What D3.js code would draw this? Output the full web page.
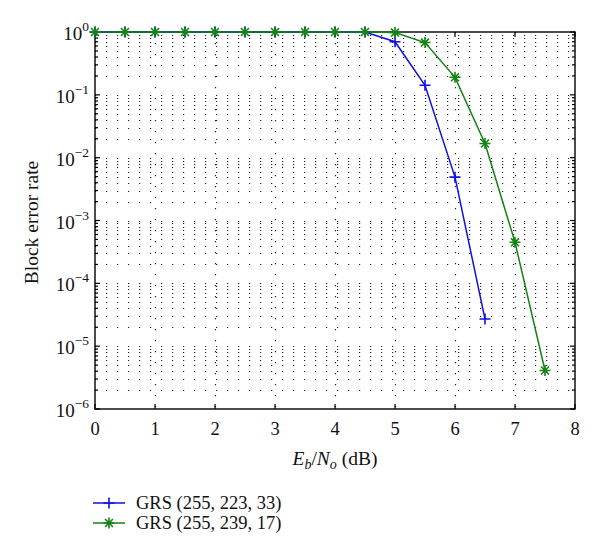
<!DOCTYPE html>
<html>
<head>
<meta charset="utf-8">
<script src="https://cdn.jsdelivr.net/npm/d3@7"></script>
<style>
  body { margin: 0; background: #fff; }
  text { font-family: "Liberation Serif", "DejaVu Serif", serif; fill: #111; }
</style>
</head>
<body>
<div id="chart"></div>
<script>
// Eb/No on x, block error rate (log) on y
var ebno = [0, 0.5, 1, 1.5, 2, 2.5, 3, 3.5, 4, 4.5, 5, 5.5, 6, 6.5, 7, 7.5]
var ber223 = [1, 1, 1, 1, 1, 1, 1, 1, 1, 1, 0.70, 0.142, 0.0049, 2.7e-5]
var ber239 = [1, 1, 1, 1, 1, 1, 1, 1, 1, 1, 0.98, 0.68, 0.19, 0.0168, 4.5e-4, 4.1e-6]
var seriesNames = ["GRS (255, 223, 33)", "GRS (255, 239, 17)"]
var xTicks = [0, 1, 2, 3, 4, 5, 6, 7, 8]
var yExps = [0, -1, -2, -3, -4, -5, -6]

var dimensions = {
    margin: { top: 32, bottom: 146, right: 25, left: 95 },
    width: 600,
    height: 555
}
var w = dimensions.width - dimensions.margin.left - dimensions.margin.right
var h = dimensions.height - dimensions.margin.top - dimensions.margin.bottom

var svg = d3.select("#chart")
    .append("svg")
    .attr("width", dimensions.width)
    .attr("height", dimensions.height)

var g = svg.append("g")
    .attr("transform", "translate(" + dimensions.margin.left + "," + dimensions.margin.top + ")")

var x = d3.scaleLinear().domain([0, 8]).range([0, w])
var y = d3.scaleLog().domain([1e-6, 1]).range([h, 0])

// minor decade positions
var minorVals = []
for (var e = -6; e < 0; e++) {
    for (var m = 2; m <= 9; m++) minorVals.push(m * Math.pow(10, e))
}
var majorVals = yExps.map(function (e) { return Math.pow(10, e) })

// grid
var grid = g.append("g").attr("stroke", "#222").attr("stroke-width", 1.2).attr("stroke-dasharray", "1.2,9.8")
grid.selectAll(".hg")
    .data(minorVals.concat(majorVals.slice(1, -1)))
    .enter().append("line")
    .attr("x1", 0).attr("x2", w)
    .attr("y1", function (d) { return Math.round(y(d)) + 0.5 })
    .attr("y2", function (d) { return Math.round(y(d)) + 0.5 })
grid.selectAll(".vg")
    .data(xTicks.slice(1, -1))
    .enter().append("line")
    .attr("x1", function (d) { return Math.round(x(d)) + 0.5 })
    .attr("x2", function (d) { return Math.round(x(d)) + 0.5 })
    .attr("y1", 0).attr("y2", h)

// box + ticks
g.append("rect").attr("width", w).attr("height", h)
    .attr("fill", "none").attr("stroke", "#000").attr("stroke-width", 1.4)

var ticks = g.append("g").attr("stroke", "#000").attr("stroke-width", 1.2)
xTicks.forEach(function (t) {
    ticks.append("line").attr("x1", x(t)).attr("x2", x(t)).attr("y1", h).attr("y2", h - 5)
    ticks.append("line").attr("x1", x(t)).attr("x2", x(t)).attr("y1", 0).attr("y2", 5)
})
majorVals.forEach(function (v) {
    ticks.append("line").attr("x1", 0).attr("x2", 5).attr("y1", y(v)).attr("y2", y(v))
    ticks.append("line").attr("x1", w).attr("x2", w - 5).attr("y1", y(v)).attr("y2", y(v))
})
minorVals.forEach(function (v) {
    ticks.append("line").attr("x1", 0).attr("x2", 3).attr("y1", y(v)).attr("y2", y(v))
    ticks.append("line").attr("x1", w).attr("x2", w - 3).attr("y1", y(v)).attr("y2", y(v))
})

// tick labels
g.selectAll(".xl")
    .data(xTicks)
    .enter().append("text")
    .attr("x", function (d) { return x(d) })
    .attr("y", h + 26)
    .attr("text-anchor", "middle")
    .attr("font-size", 18.5)
    .text(function (d) { return d })

var yl = g.selectAll(".yl")
    .data(yExps)
    .enter().append("text")
    .attr("x", -6)
    .attr("y", function (d) { return y(Math.pow(10, d)) + 8 })
    .attr("text-anchor", "end")
    .attr("font-size", 19)
yl.append("tspan").text("10")
yl.append("tspan").attr("dy", -9).attr("font-size", 13.5)
    .text(function (d) { return d == 0 ? "0" : "\u2212" + (-d) })

// axis titles
var xt = svg.append("text")
    .attr("x", dimensions.margin.left + w / 2)
    .attr("y", 465)
    .attr("text-anchor", "middle")
    .attr("font-size", 19.5)
xt.append("tspan").attr("font-style", "italic").text("E")
xt.append("tspan").attr("font-style", "italic").attr("font-size", 14).attr("dy", 4).text("b")
xt.append("tspan").attr("dy", -4).text("/")
xt.append("tspan").attr("font-style", "italic").text("N")
xt.append("tspan").attr("font-style", "italic").attr("font-size", 14).attr("dy", 4).text("o")
xt.append("tspan").attr("dy", -4).text(" (dB)")

svg.append("text")
    .attr("transform", "translate(38," + (dimensions.margin.top + h / 2 + 2) + ") rotate(-90)")
    .attr("text-anchor", "middle")
    .attr("font-size", 19.5)
    .text("Block error rate")

// series
var series = [
    { name: seriesNames[0], vals: ber223, color: "#1010e0", marker: "plus" },
    { name: seriesNames[1], vals: ber239, color: "#138313", marker: "star" }
]

var line = d3.line()
    .x(function (d) { return x(d[0]) })
    .y(function (d) { return y(d[1]) })

function drawMarker(sel, type, color) {
    var r = 5.5
    if (type == "plus") {
        sel.append("path").attr("d", "M" + (-r) + ",0H" + r + "M0," + (-r) + "V" + r)
    } else {
        var k = r * 0.72
        sel.append("path").attr("d", "M" + (-r) + ",0H" + r + "M0," + (-r) + "V" + r +
            "M" + (-k) + "," + (-k) + "L" + k + "," + k + "M" + (-k) + "," + k + "L" + k + "," + (-k))
    }
    sel.selectAll("path").attr("stroke", color).attr("stroke-width", 1.6).attr("fill", "none")
}

// blue first, green drawn on top
series.forEach(function (s) {
    var pts = s.vals.map(function (v, i) { return [ebno[i], v] })
    g.append("path")
        .datum(pts)
        .attr("fill", "none")
        .attr("stroke", s.color)
        .attr("stroke-width", 1.5)
        .attr("d", line)
    pts.forEach(function (p) {
        var mk = g.append("g").attr("transform", "translate(" + x(p[0]) + "," + y(p[1]) + ")")
        drawMarker(mk, s.marker, s.color)
    })
})

// legend
series.forEach(function (s, i) {
    var ly = 503 + i * 20
    svg.append("line")
        .attr("x1", 93).attr("x2", 125).attr("y1", ly).attr("y2", ly)
        .attr("stroke", s.color).attr("stroke-width", 1.5)
    var mk = svg.append("g").attr("transform", "translate(109," + ly + ")")
    drawMarker(mk, s.marker, s.color)
    svg.append("text")
        .attr("x", 136).attr("y", ly + 6)
        .attr("font-size", 18.5)
        .text(s.name)
})
</script>
</body>
</html>
